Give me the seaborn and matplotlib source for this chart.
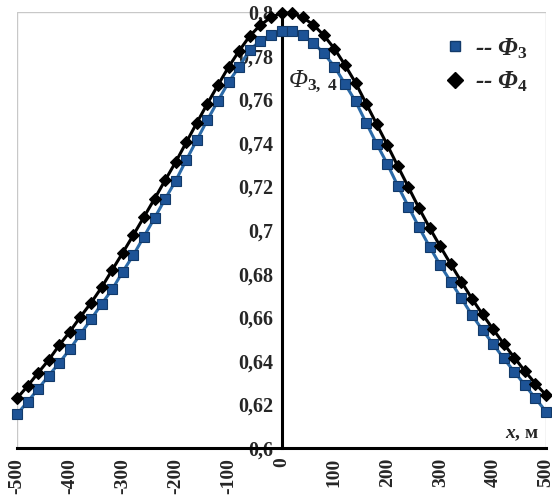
import numpy as np
import pandas as pd
import matplotlib
matplotlib.use("Agg")
import matplotlib.pyplot as plt
from matplotlib.lines import Line2D
from matplotlib.patches import Rectangle
import seaborn as sns

# distance, m
x_m = list(range(-500, 501, 20))

# Phi_3 values
phi3 = [0.6155, 0.6212, 0.6271, 0.6332, 0.6391, 0.6453, 0.6523, 0.6590, 0.6661, 0.6728,
        0.6809, 0.6885, 0.6970, 0.7055, 0.7142, 0.7226, 0.7321, 0.7413, 0.7505, 0.7593,
        0.7678, 0.7750, 0.7826, 0.7868, 0.7895, 0.7915, 0.7915, 0.7894, 0.7860, 0.7810,
        0.7750, 0.7670, 0.7590, 0.7492, 0.7395, 0.7303, 0.7202, 0.7107, 0.7012, 0.6923,
        0.6839, 0.6763, 0.6687, 0.6610, 0.6541, 0.6477, 0.6411, 0.6350, 0.6289, 0.6228,
        0.6167]

# Phi_4 values
phi4 = [0.6228, 0.6284, 0.6345, 0.6404, 0.6472, 0.6534, 0.6602, 0.6666, 0.6737, 0.6817,
        0.6896, 0.6977, 0.7060, 0.7143, 0.7228, 0.7312, 0.7402, 0.7492, 0.7580, 0.7665,
        0.7748, 0.7822, 0.7890, 0.7940, 0.7975, 0.7995, 0.7995, 0.7975, 0.7942, 0.7893,
        0.7832, 0.7757, 0.7675, 0.7580, 0.7485, 0.7390, 0.7292, 0.7196, 0.7100, 0.7010,
        0.6925, 0.6843, 0.6763, 0.6685, 0.6613, 0.6545, 0.6478, 0.6415, 0.6353, 0.6295,
        0.6243]

xticks = list(range(-500, 501, 100))
yticks = [0.6, 0.62, 0.64, 0.66, 0.68, 0.7, 0.72, 0.74, 0.76, 0.78, 0.8]
ytick_labels = ['0,6', '0,62', '0,64', '0,66', '0,68', '0,7', '0,72', '0,74', '0,76', '0,78', '0,8']

df3 = pd.DataFrame({'x': x_m, 'phi': phi3})
df4 = pd.DataFrame({'x': x_m, 'phi': phi4})

sns.set_style("white")
plt.rcParams['font.family'] = ['Liberation Serif', 'DejaVu Serif']
plt.rcParams['font.weight'] = 'bold'
plt.rcParams['mathtext.fontset'] = 'custom'
plt.rcParams['mathtext.rm'] = 'Liberation Serif:bold'
plt.rcParams['mathtext.it'] = 'Liberation Serif:italic:bold'
plt.rcParams['mathtext.bf'] = 'Liberation Serif:bold'

fig = plt.figure(figsize=(5.52, 4.97), dpi=100)
ax = fig.add_axes([17 / 552, 49 / 497, 529 / 552, 436 / 497])

blue_fill = '#1d5396'
blue_line = '#2b6aa8'

sns.lineplot(data=df3, x='x', y='phi', ax=ax, color=blue_line, lw=2.2,
             marker='s', markersize=7.5, markerfacecolor=blue_fill,
             markeredgecolor='#123a6a', markeredgewidth=0.8, clip_on=False)
sns.lineplot(data=df4, x='x', y='phi', ax=ax, color='black', lw=2.2,
             marker='D', markersize=6.5, markerfacecolor='black',
             markeredgecolor='black', markeredgewidth=0.8, clip_on=False)

ax.set_xlim(-500, 500)
ax.set_ylim(0.6, 0.8)

# y axis through x = 0, x axis at bottom
ax.spines['left'].set_position(('data', 0))
for s in ['left', 'bottom']:
    ax.spines[s].set_color('black')
    ax.spines[s].set_linewidth(2.2)
    ax.spines[s].set_zorder(1)
for s in ['top', 'right']:
    ax.spines[s].set_visible(False)
ax.add_patch(Rectangle((0, 0), 1, 1, transform=ax.transAxes, fill=False,
                       edgecolor='#c8c8c8', lw=1.0, zorder=0))

ax.set_xticks(xticks)
ax.set_xticklabels([str(v) for v in xticks], rotation=90, fontsize=14, fontweight='bold')
ax.set_yticks(yticks)
ax.set_yticklabels(ytick_labels, fontsize=14.5, fontweight='bold')
ax.tick_params(axis='both', direction='out', length=5, width=2.2, color='black', pad=2)
ax.tick_params(axis='y', pad=1)

ax.set_xlabel(r'$x$, м', fontsize=14, fontweight='bold')
ax.xaxis.set_label_coords(0.955, 0.05)
ax.set_ylabel(r'Φ$_{3,\ 4}$', fontsize=18, rotation=0, fontstyle='italic')
ax.yaxis.set_label_coords(0.56, 0.81)

handles = [Line2D([], [], ls='none', marker='s', markersize=7.5, markerfacecolor=blue_fill,
                  markeredgecolor='#123a6a'),
           Line2D([], [], ls='none', marker='D', markersize=8.5, markerfacecolor='black',
                  markeredgecolor='black')]
labels = [r'-- Φ$_3$', r'-- Φ$_4$']
ax.legend(handles, labels, loc='upper right', bbox_to_anchor=(1.0, 0.985), frameon=False,
          prop={'family': 'Liberation Serif', 'style': 'italic', 'weight': 'bold', 'size': 18},
          handlelength=0.8, handletextpad=0.4, labelspacing=0.35, borderaxespad=0.3)

fig.savefig('out.png', dpi=100)
